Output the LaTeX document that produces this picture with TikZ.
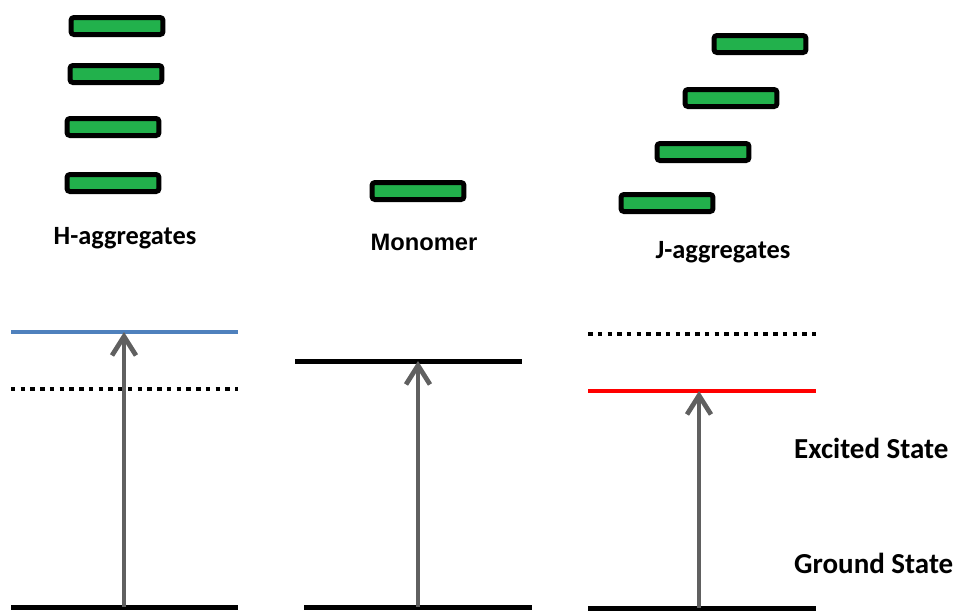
\documentclass[tikz,border=0pt]{standalone}
\usepackage{fontspec}
\setmainfont{Carlito}
\newfontfamily\arialfont{Liberation Sans}
\usepackage{xcolor}
\usetikzlibrary{arrows.meta}
\definecolor{molgreen}{RGB}{34,177,76}
\definecolor{hblue}{RGB}{79,129,189}
\definecolor{arrowgray}{RGB}{96,96,96}

\begin{document}
\begin{tikzpicture}[x=0.02cm, y=-0.02cm,
    molecule/.style={draw=black, line width=0.1cm, fill=molgreen, rounded corners=0.06cm,
      minimum width=1.84cm, minimum height=0.34cm, inner sep=0pt},
    level/.style={line width=0.1cm},
    dotlevel/.style={line width=0.09cm, dash pattern=on 0.09cm off 0.105cm},
    excite/.style={-{Straight Barb[length=0.38cm,width=0.48cm]}, line width=0.095cm, arrowgray},
    aggname/.style={font=\bfseries\fontsize{15}{18}\selectfont},
    statename/.style={font=\bfseries\fontsize{16.5}{19}\selectfont}]
    \useasboundingbox (0,0) rectangle (957,610);

    % molecules
    \node[molecule] at (117, 26) (h_1) {};
    \node[molecule] at (116, 74) (h_2) {};
    \node[molecule] at (113,127) (h_3) {};
    \node[molecule] at (113,183) (h_4) {};
    \node[aggname] at (125,238) (h_name) {H-aggregates};

    \node[molecule] at (418,191) (mono) {};
    \node[aggname, font=\arialfont\bfseries\fontsize{13.5}{16}\selectfont] at (424,242) (mono_name) {Monomer};

    \node[molecule] at (760, 44) (j_1) {};
    \node[molecule] at (731, 98) (j_2) {};
    \node[molecule] at (703,152) (j_3) {};
    \node[molecule] at (667,203) (j_4) {};
    \node[aggname] at (723,252) (j_name) {J-aggregates};

    % energy levels
    \coordinate (h_gl) at (11,607);  \coordinate (h_gr) at (238,607);
    \coordinate (h_el) at (11,332);  \coordinate (h_er) at (238,332);
    \coordinate (h_dl) at (11,389);  \coordinate (h_dr) at (238,389);
    \draw[level] (h_gl) -- (h_gr);
    \draw[level, hblue, line width=0.08cm] (h_el) -- (h_er);
    \draw[dotlevel] (h_dl) -- (h_dr);
    \coordinate (h_ground) at (124,607);
    \coordinate (h_exc) at (124,332);
    \draw[excite] (h_ground) -- (h_exc);

    \coordinate (m_gl) at (304,607); \coordinate (m_gr) at (532,607);
    \coordinate (m_el) at (295,361); \coordinate (m_er) at (522,361);
    \draw[level] (m_gl) -- (m_gr);
    \draw[level] (m_el) -- (m_er);
    \coordinate (m_ground) at (418,607);
    \coordinate (m_exc) at (418,361);
    \draw[excite] (m_ground) -- (m_exc);

    \coordinate (j_gl) at (588,608); \coordinate (j_gr) at (816,608);
    \coordinate (j_el) at (588,391); \coordinate (j_er) at (816,391);
    \coordinate (j_dl) at (588,334); \coordinate (j_dr) at (816,334);
    \draw[level] (j_gl) -- (j_gr);
    \draw[level, red, line width=0.08cm] (j_el) -- (j_er);
    \draw[dotlevel] (j_dl) -- (j_dr);
    \coordinate (j_ground) at (699,608);
    \coordinate (j_exc) at (699,391);
    \draw[excite] (j_ground) -- (j_exc);

    \node[statename, anchor=west] at (788,448) (excited) {Excited State};
    \node[statename, anchor=west] at (788,563) (ground) {Ground State};
\end{tikzpicture}
\end{document}
